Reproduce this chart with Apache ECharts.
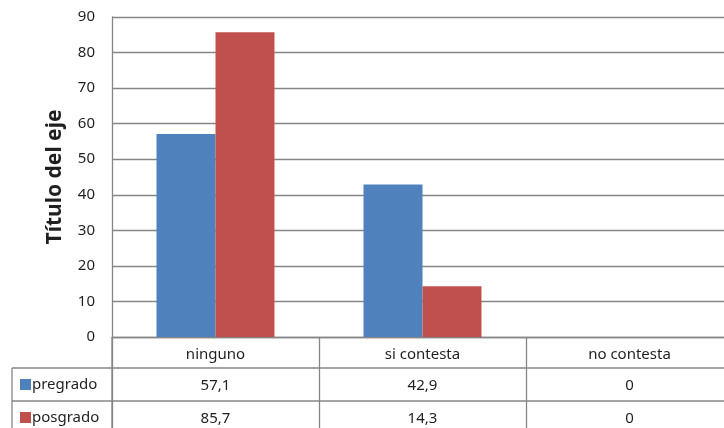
<!DOCTYPE html>
<html>
<head>
<meta charset="utf-8">
<script src="https://cdn.jsdelivr.net/npm/echarts@6/dist/echarts.min.js"></script>
<style>
html,body{margin:0;padding:0;background:#fff;}
#chart{width:724px;height:428px;}
</style>
</head>
<body>
<div id="chart"></div>
<script>
// Categories and series values
const categories = ['ninguno', 'si contesta', 'no contesta'];
const pregrado = [57.1, 42.9, 0];
const posgrado = [85.7, 14.3, 0];
const seriesNames = ['pregrado', 'posgrado'];
const yTicks = { min: 0, max: 90, step: 10 };

const FONT = '"Noto Sans", sans-serif';
const GRID_COLOR = '#868686';
const TEXT_COLOR = '#1f1f1f';
const FS = 15;

const fmt = v => String(v).replace('.', ',');

const chart = echarts.init(document.getElementById('chart'), null, { renderer: 'canvas' });

// One hidden-line category axis per data-table row, stacked below the plot
function tableAxis(values, offset) {
  return {
    type: 'category',
    data: categories,
    position: 'bottom',
    offset: offset,
    axisLine: { show: false },
    axisTick: { show: false },
    axisLabel: {
      margin: 10,
      fontFamily: FONT,
      fontSize: FS,
      color: TEXT_COLOR,
      formatter: (name, idx) => fmt(values[idx])
    }
  };
}

// Legend key for one table row
function rowKey(name, top) {
  return {
    data: [name],
    left: 20,
    top: top,
    itemWidth: 11,
    itemHeight: 11,
    icon: 'rect',
    padding: 0,
    textStyle: { fontFamily: FONT, fontSize: FS, color: TEXT_COLOR, padding: [0, 0, 0, -4] }
  };
}

chart.setOption({
  animation: false,
  backgroundColor: '#fff',
  color: ['#4F81BD', '#C0504D'],
  // plot area runs a little past the right edge of the canvas
  grid: { left: 112, top: 17, width: 621, height: 320, containLabel: false, outerBoundsMode: 'none' },
  legend: [rowKey(seriesNames[0], 377), rowKey(seriesNames[1], 410)],
  xAxis: [
    {
      type: 'category',
      data: categories,
      position: 'bottom',
      axisLine: { show: true, lineStyle: { color: GRID_COLOR, width: 1.3 } },
      axisTick: { show: true, alignWithLabel: false, length: 95, lineStyle: { color: GRID_COLOR, width: 1.3 } },
      axisLabel: { margin: 10, fontFamily: FONT, fontSize: FS, color: TEXT_COLOR }
    },
    tableAxis(pregrado, 31),
    tableAxis(posgrado, 64)
  ],
  yAxis: {
    type: 'value',
    min: yTicks.min,
    max: yTicks.max,
    interval: yTicks.step,
    name: 'Título del eje',
    nameLocation: 'middle',
    nameGap: 46,
    nameTextStyle: { fontFamily: FONT, fontSize: 21, fontWeight: 'bold', color: TEXT_COLOR },
    axisLine: { show: true, lineStyle: { color: GRID_COLOR, width: 1.3 } },
    axisTick: { show: false },
    axisLabel: { margin: 17, fontFamily: FONT, fontSize: FS, color: TEXT_COLOR },
    splitLine: { show: true, lineStyle: { color: GRID_COLOR, width: 1.3 } }
  },
  series: [
    { name: seriesNames[0], type: 'bar', data: pregrado, barGap: '0%', barCategoryGap: '43%' },
    { name: seriesNames[1], type: 'bar', data: posgrado, barGap: '0%', barCategoryGap: '43%' }
  ],
  graphic: [
    // data-table borders outside the plot's horizontal span
    { type: 'line', shape: { x1: 12, y1: 368, x2: 724, y2: 368 }, style: { stroke: GRID_COLOR, lineWidth: 1.3 } },
    { type: 'line', shape: { x1: 12, y1: 401, x2: 724, y2: 401 }, style: { stroke: GRID_COLOR, lineWidth: 1.3 } },
    { type: 'line', shape: { x1: 12, y1: 368, x2: 12, y2: 428 }, style: { stroke: GRID_COLOR, lineWidth: 1.3 } },
    { type: 'line', shape: { x1: 112, y1: 337, x2: 112, y2: 428 }, style: { stroke: GRID_COLOR, lineWidth: 1.3 } }
  ]
});
</script>
</body>
</html>
